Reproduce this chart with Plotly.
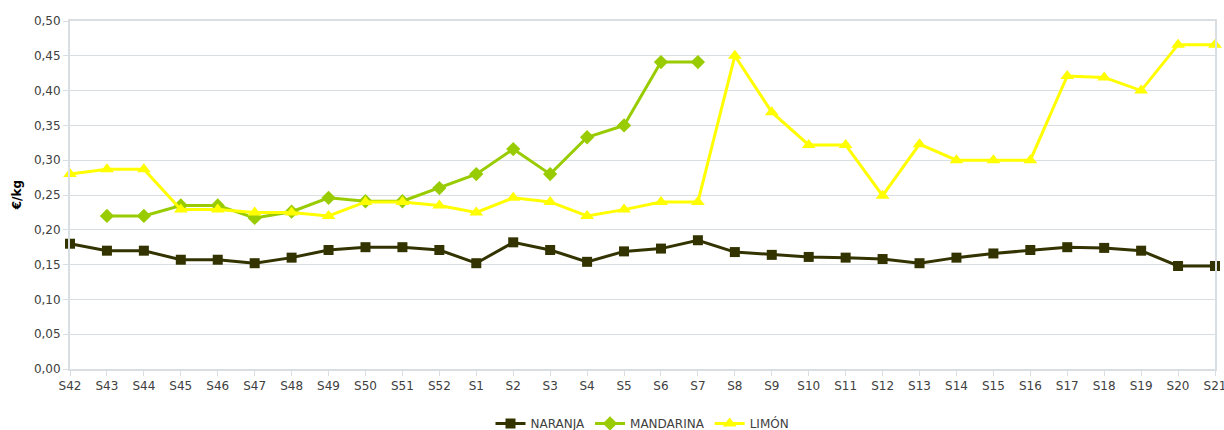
import plotly.graph_objects as go

semanas = ["S42", "S43", "S44", "S45", "S46", "S47", "S48", "S49", "S50", "S51", "S52",
           "S1", "S2", "S3", "S4", "S5", "S6", "S7", "S8", "S9", "S10", "S11", "S12",
           "S13", "S14", "S15", "S16", "S17", "S18", "S19", "S20", "S21"]

naranja = [0.180, 0.170, 0.170, 0.157, 0.157, 0.152, 0.160, 0.171, 0.175, 0.175, 0.171,
           0.152, 0.182, 0.171, 0.154, 0.169, 0.173, 0.185, 0.168, 0.164, 0.161, 0.160, 0.158,
           0.152, 0.160, 0.166, 0.171, 0.175, 0.174, 0.170, 0.148, 0.148]

mandarina = [None, 0.220, 0.220, 0.235, 0.235, 0.217, 0.226, 0.246, 0.241, 0.241, 0.260,
             0.280, 0.316, 0.280, 0.333, 0.350, 0.441, 0.441, None, None, None, None, None,
             None, None, None, None, None, None, None, None, None]

limon = [0.280, 0.287, 0.287, 0.229, 0.229, 0.225, 0.225, 0.220, 0.240, 0.240, 0.235,
         0.225, 0.246, 0.240, 0.220, 0.229, 0.240, 0.240, 0.450, 0.369, 0.322, 0.322, 0.249,
         0.323, 0.300, 0.300, 0.300, 0.421, 0.419, 0.400, 0.466, 0.466]

yticks = [0.0, 0.05, 0.10, 0.15, 0.20, 0.25, 0.30, 0.35, 0.40, 0.45, 0.50]
ytick_labels = ["0,00", "0,05", "0,10", "0,15", "0,20", "0,25", "0,30", "0,35", "0,40", "0,45", "0,50"]

x = list(range(len(semanas)))

fig = go.Figure()
fig.add_trace(go.Scatter(x=x, y=naranja, name="NARANJA", mode="lines+markers",
                         line=dict(color="#333300", width=3),
                         marker=dict(symbol="square", size=10, color="#333300"),
                         cliponaxis=False))
fig.add_trace(go.Scatter(x=x, y=mandarina, name="MANDARINA", mode="lines+markers",
                         line=dict(color="#99cc00", width=3),
                         marker=dict(symbol="diamond", size=11, color="#99cc00"),
                         cliponaxis=False))
fig.add_trace(go.Scatter(x=x, y=limon, name="LIMÓN", mode="lines+markers",
                         line=dict(color="#ffff00", width=3),
                         marker=dict(symbol="triangle-up", size=12, color="#ffff00"),
                         cliponaxis=False))

grid = "#d9dee2"
fig.update_layout(
    width=1224, height=430,
    margin=dict(l=70, r=9, t=21, b=61, autoexpand=False),
    paper_bgcolor="white", plot_bgcolor="white",
    font=dict(family="'DejaVu Sans', sans-serif", size=12, color="#404040"),
    showlegend=True,
    legend=dict(orientation="h", x=0.5, xanchor="center", y=-0.115, yanchor="top",
                font=dict(size=12, color="#404040"), itemwidth=30, tracegroupgap=0),
    xaxis=dict(tickmode="array", tickvals=x, ticktext=semanas, range=[0, len(semanas) - 1],
               showgrid=False, showline=True, linecolor=grid, linewidth=2, mirror=True,
               ticks="outside", ticklen=5, tickcolor=grid, tickwidth=1, automargin=False,
               ticklabeloverflow="allow",
               tickfont=dict(size=12, color="#404040"), zeroline=False),
    yaxis=dict(tickmode="array", tickvals=yticks, ticktext=ytick_labels, range=[0, 0.5],
               showgrid=True, gridcolor=grid, gridwidth=1, automargin=False,
               showline=True, linecolor=grid, linewidth=2, mirror=True,
               ticks="outside", ticklen=5, tickcolor=grid,
               tickfont=dict(size=12, color="#404040"), zeroline=False),
    annotations=[dict(text="<b>€/kg</b>", textangle=-90, xref="paper", yref="paper",
                      x=-0.046, y=0.5, xanchor="center", yanchor="middle", showarrow=False,
                      font=dict(size=12, color="#000000"))],
)

fig.write_html("out.html", config={"displayModeBar": False},
               post_script="document.body.style.margin='0';document.body.style.overflow='hidden';")
